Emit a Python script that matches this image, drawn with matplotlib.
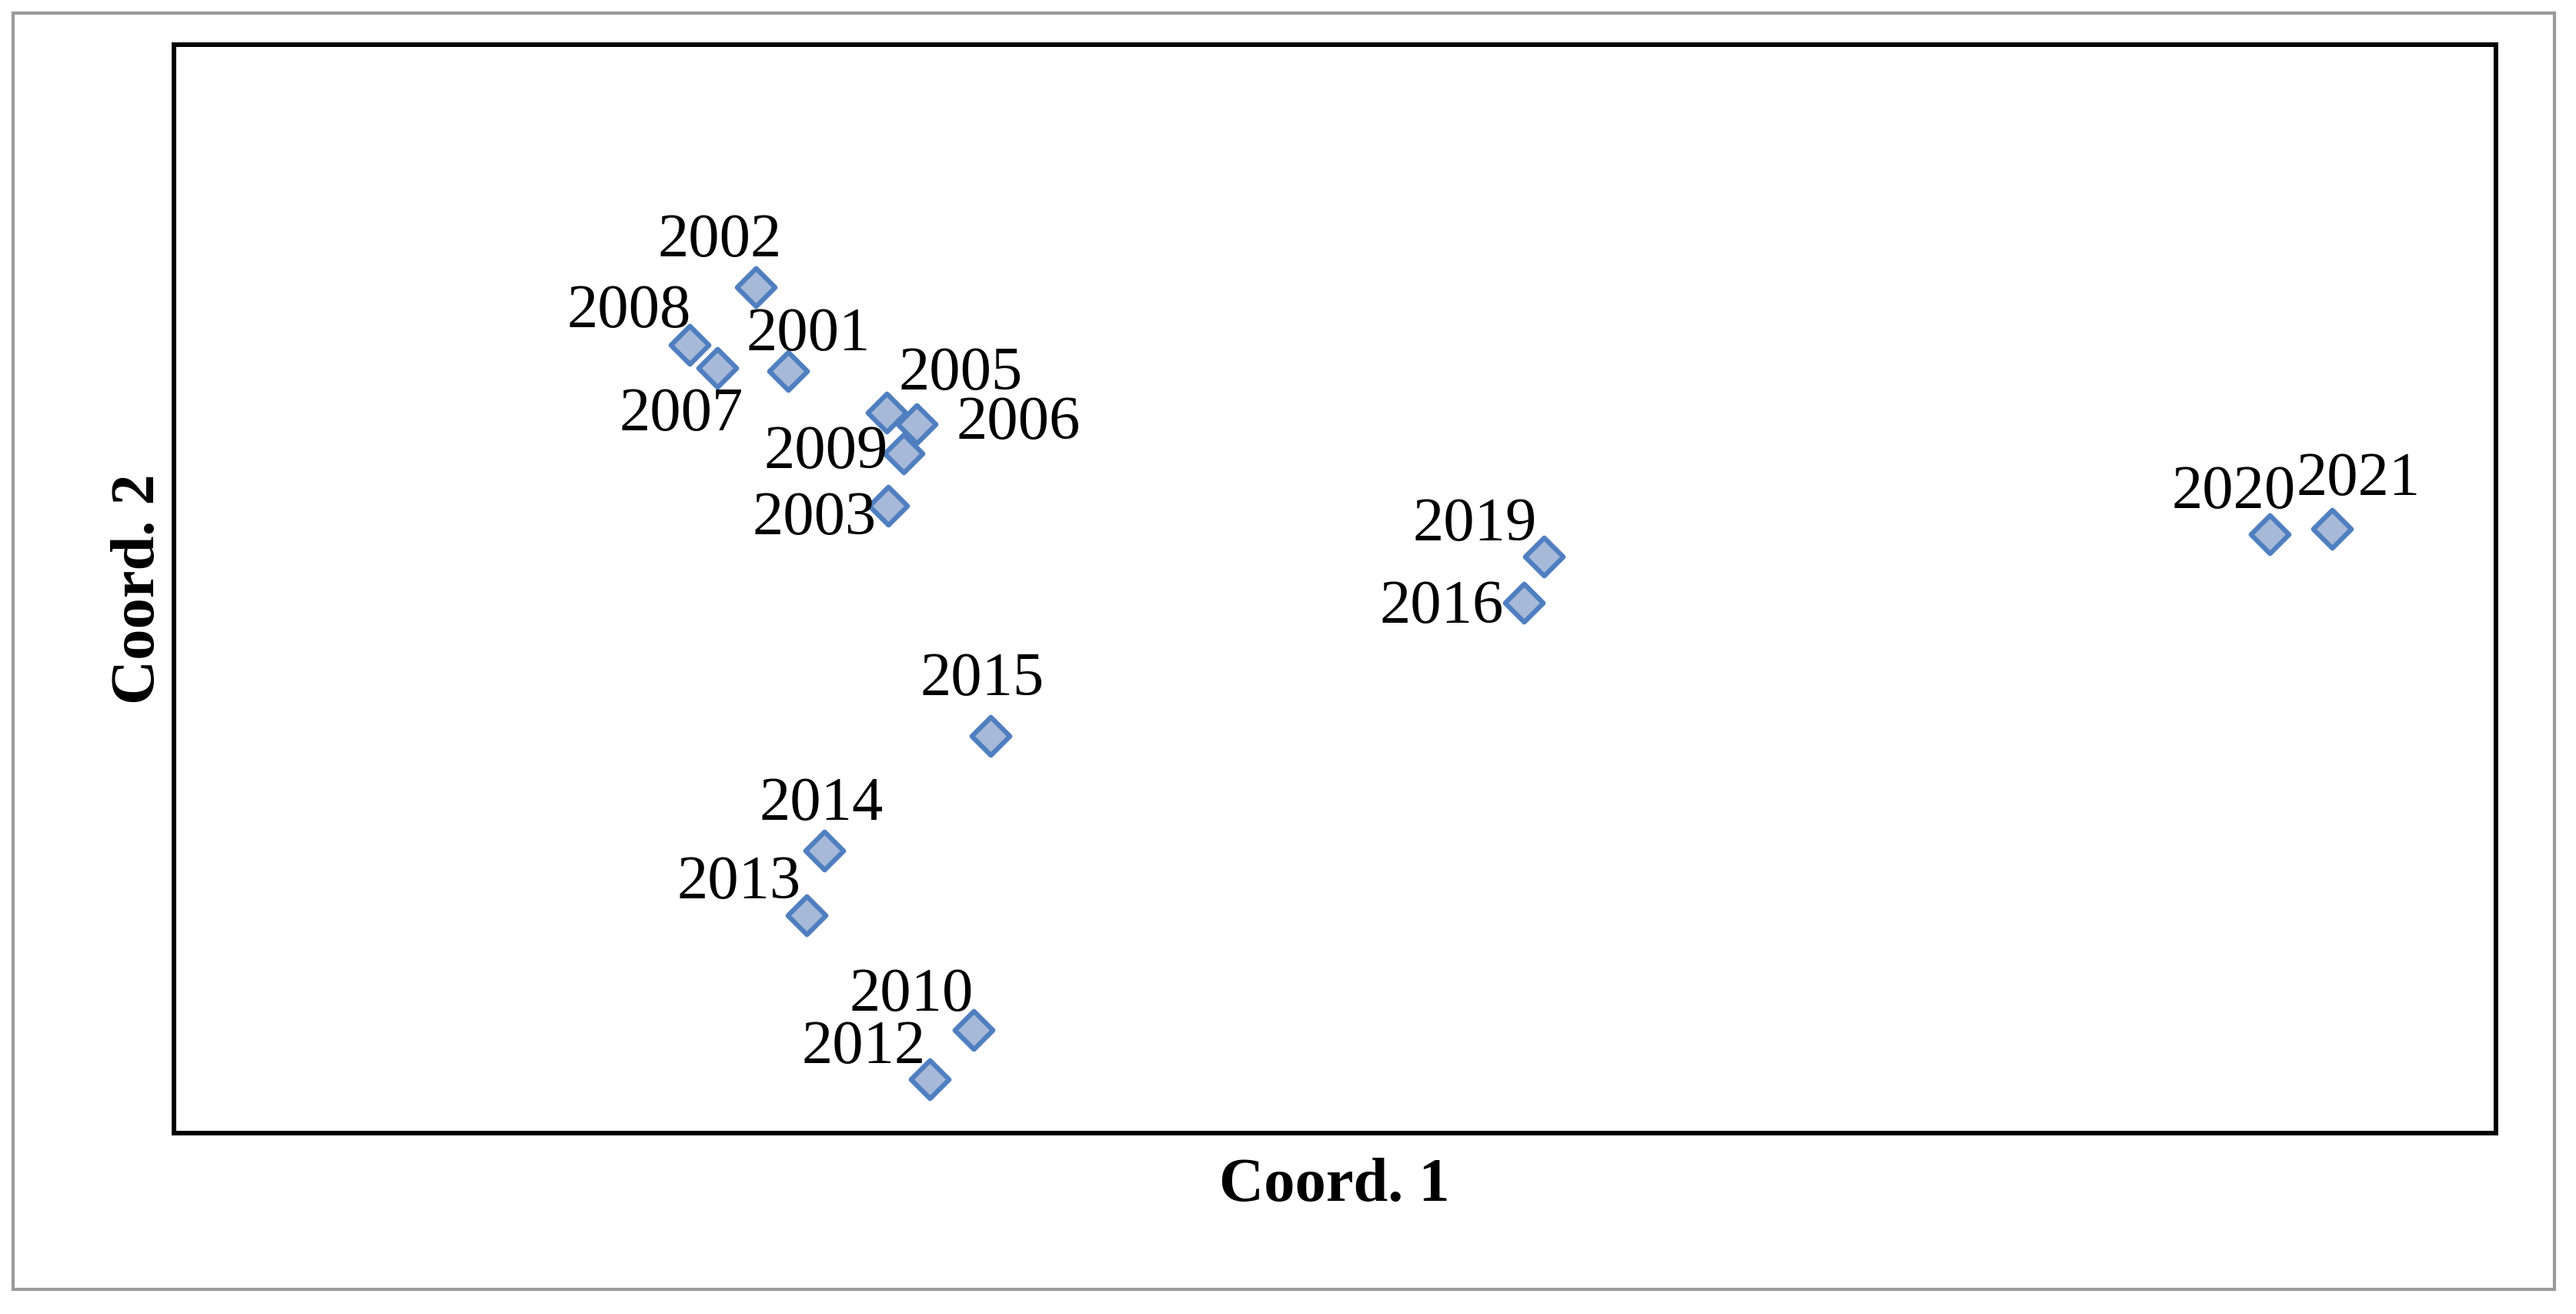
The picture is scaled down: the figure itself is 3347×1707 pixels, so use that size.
import matplotlib
matplotlib.use("Agg")
import matplotlib.pyplot as plt
from matplotlib.patches import Rectangle

# point coordinates (arbitrary MDS units, y grows downward in the source)
years = ["2002", "2008", "2007", "2001", "2005", "2006", "2009", "2003", "2015",
         "2014", "2013", "2010", "2012", "2019", "2016", "2020", "2021"]
coord1 = [460, 420, 437, 480, 540, 558, 550, 541, 603, 502, 491, 593, 566, 940, 928, 1382, 1420]
coord2 = [175, 210, 224, 226, 251, 258, 276, 308, 448, 518, 557, 627, 657, 339, 367, 325, 322]
# label centres
lab_x = [438, 383, 415, 492, 585, 620, 503, 496, 598, 500, 450, 555, 526, 898, 878, 1360, 1436]
lab_y = [147, 190, 253, 204, 228, 258, 276, 316, 414, 490, 538, 606, 638, 320, 370, 300, 292]

fig = plt.figure(figsize=(33.47, 17.07), dpi=100)
fig.patch.set_facecolor("white")
fig.patches.append(Rectangle((0.0051, 0.019), 0.9866, 0.971, transform=fig.transFigure,
                             fill=False, edgecolor="#9a9a9a", lw=3))

ax = fig.add_axes([0.0676, 0.1375, 0.9014, 0.8287])
ax.scatter(coord1, coord2, marker="D", s=34**2 * 0.55, facecolor="#a7b9d8",
           edgecolor="#4f7fc0", linewidths=4.5, zorder=3)
for t, x, y in zip(years, lab_x, lab_y):
    ax.text(x, y, t, ha="center", va="center", fontsize=58, family="Liberation Serif", zorder=4)

ax.set_xlim(106, 1520)
ax.set_ylim(690, 27)
ax.set_xticks([]); ax.set_yticks([])
for sp in ax.spines.values():
    sp.set_linewidth(4.3); sp.set_color("black")

fig.text(0.518, 0.0975, "Coord. 1", ha="center", va="center", fontsize=58,
         fontweight="bold", family="Liberation Serif")
fig.text(0.054, 0.552, "Coord. 2", ha="center", va="center", rotation=90, fontsize=58,
         fontweight="bold", family="Liberation Serif")

fig.savefig("out.png", dpi=100, facecolor="white")
